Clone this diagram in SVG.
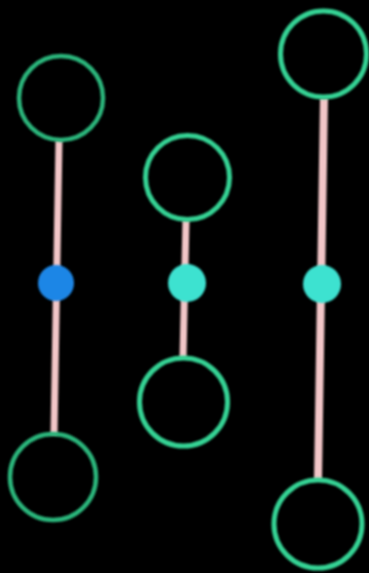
<svg xmlns="http://www.w3.org/2000/svg" width="369" height="573" viewBox="0 0 369 573">
  <defs>
    <filter id="soft" x="-20%" y="-20%" width="140%" height="140%">
      <feGaussianBlur stdDeviation="0.8"/>
    </filter>
  </defs>
  <style>
    .ring { fill: none; stroke: #34d394; stroke-width: 5; }
    .ringDim { fill: none; stroke: #2bb67c; stroke-width: 4.5; }
    .bar { stroke: #f2c6c8; stroke-width: 7; stroke-linecap: butt; }
    .dotBlue { fill: #1f86e6; }
    .dotCyan { fill: #3ee2d0; }
  </style>
  <rect width="369" height="573" fill="#000"/>
  <g id="connectors" filter="url(#soft)">
    <line class="bar" x1="59" y1="140" x2="54" y2="435"/>
    <line class="bar" x1="186" y1="220" x2="183" y2="358"/>
    <line class="bar" x1="324" y1="98" x2="318" y2="480" style="stroke-width:8"/>
  </g>
  <g filter="url(#soft)">
    <g id="left-top"><circle class="ringDim" cx="61" cy="98" r="42"/></g>
    <g id="left-bottom"><circle class="ringDim" cx="53" cy="477" r="43"/></g>
    <g id="left-mid"><circle class="dotBlue" cx="56" cy="283" r="18"/></g>
    <g id="middle-top"><circle class="ring" cx="187.5" cy="177.5" r="42"/></g>
    <g id="middle-bottom"><circle class="ring" cx="183.5" cy="402" r="44"/></g>
    <g id="middle-mid"><circle class="dotCyan" cx="187" cy="283" r="19"/></g>
    <g id="right-top"><circle class="ring" cx="323.5" cy="54" r="43"/></g>
    <g id="right-bottom"><circle class="ring" cx="318" cy="524" r="44"/></g>
    <g id="right-mid"><circle class="dotCyan" cx="322" cy="284" r="19"/></g>
  </g>
</svg>
